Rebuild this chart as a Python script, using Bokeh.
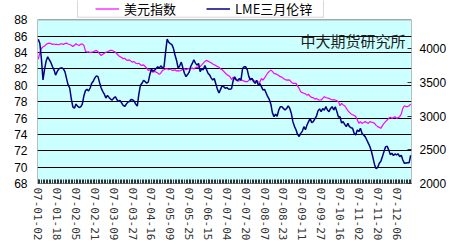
from bokeh.plotting import figure
from bokeh.models import (Range1d, LinearAxis, FixedTicker, Legend, LegendItem,
                          Label, ColumnDataSource, BoxAnnotation)
from bokeh.embed import file_html
from bokeh.resources import INLINE

date_labels = ["07-01-02", "07-01-18", "07-02-05", "07-02-21", "07-03-09",
               "07-03-27", "07-04-16", "07-05-09", "07-05-25", "07-06-15",
               "07-07-04", "07-07-20", "07-08-07", "07-08-23", "07-09-11",
               "07-09-27", "07-10-16", "07-11-02", "07-11-20", "07-12-06"]
label_step = 12

usd_index = [
    83.2, 84.0, 84.5, 84.7, 84.8, 85.0, 85.1, 85.15, 85.1, 85.0, 85.05, 84.99,
    85.0, 84.95, 85.05, 85.07, 85.0, 85.1, 85.15, 85.05, 84.99, 84.9, 84.74, 84.9,
    85.07, 84.95, 84.87, 85.0, 85.07, 84.87, 84.2, 84.05, 84.1, 84.0, 84.05, 84.1,
    84.2, 84.26, 84.1, 83.85, 83.64, 83.8, 83.9, 84.05, 84.1, 84.2, 84.26, 84.26,
    84.15, 84.05, 83.85, 83.64, 83.5, 83.4, 83.24, 83.3, 83.1, 83.04, 83.1, 82.95,
    82.83, 82.9, 82.7, 82.63, 82.7, 82.5, 82.43, 82.5, 82.3, 82.1, 81.82, 81.9,
    81.7, 81.61, 81.7, 81.61, 81.5, 81.33, 81.5, 81.82, 81.9, 82.0, 82.02, 81.9,
    82.0, 81.85, 81.82, 81.9, 81.74, 81.8, 81.74, 81.85, 81.95, 82.02, 81.9, 82.0,
    82.05, 82.02, 82.1, 82.0, 82.15, 82.22, 82.2, 82.3, 82.5, 82.7, 82.9, 83.04,
    82.95, 82.85, 82.75, 82.6, 82.5, 82.4, 82.3, 82.2, 82.0, 81.9, 81.7, 81.5,
    81.3, 81.2, 81.05, 80.7, 81.0, 80.8, 80.63, 80.5, 80.55, 80.63, 80.6, 80.5,
    80.45, 80.44, 80.6, 80.84, 80.7, 80.63, 80.5, 80.44, 80.4, 80.36, 80.84, 80.63,
    80.9, 81.2, 81.5, 81.7, 81.85, 81.7, 81.45, 81.4, 81.33, 81.2, 81.05, 81.0,
    80.84, 80.7, 80.63, 80.65, 80.63, 80.4, 80.23, 80.25, 80.23, 79.9, 79.62, 79.22,
    79.1, 79.02, 78.95, 78.8, 78.9, 78.65, 78.5, 78.5, 78.3, 78.4, 78.25, 78.2,
    78.2, 78.4, 78.6, 78.5, 78.45, 78.4, 78.3, 78.2, 78.25, 78.2, 78.1, 78.0,
    77.5, 77.8, 77.6, 77.5, 77.2, 76.9, 76.7, 76.5, 76.4, 76.3, 76.2, 75.8,
    75.35, 75.56, 75.35, 75.45, 75.56, 75.45, 75.35, 75.56, 75.5, 75.45, 75.35, 75.1,
    74.95, 74.85, 74.74, 75.07, 75.35, 75.56, 75.76, 75.96, 76.1, 75.96, 76.05, 76.17,
    75.96, 76.05, 76.17, 76.5, 77.2, 77.5, 77.4, 77.4, 77.5, 77.7,
]

lme_zinc = [
    4146, 4082, 3850, 3540, 3700, 3820, 3885, 3840, 3800, 3740, 3690, 3612,
    3662, 3700, 3715, 3720, 3705, 3660, 3560, 3463, 3420, 3260, 3140, 3120,
    3180, 3150, 3130, 3140, 3180, 3300, 3380, 3400, 3375, 3420, 3490, 3520,
    3570, 3600, 3590, 3500, 3420, 3370, 3330, 3270, 3310, 3280, 3255, 3240,
    3270, 3290, 3250, 3220, 3235, 3200, 3160, 3145, 3180, 3210, 3220, 3250,
    3245, 3225, 3180, 3150, 3330, 3460, 3490, 3535, 3515, 3490, 3510, 3620,
    3700, 3670, 3685, 3710, 3735, 3715, 3750, 3720, 3730, 3950, 4146, 4100,
    4080, 4065, 4010, 3910, 3830, 3715, 3750, 3805, 3720, 3640, 3590, 3620,
    3655, 3740, 3785, 3840, 3790, 3760, 3785, 3665, 3705, 3690, 3755, 3700,
    3640, 3615, 3570, 3540, 3560, 3480, 3400, 3345, 3400, 3455, 3440, 3415,
    3425, 3405, 3400, 3410, 3530, 3585, 3540, 3535, 3560, 3540, 3710, 3736,
    3735, 3690, 3590, 3540, 3565, 3515, 3490, 3535, 3465, 3485, 3440, 3390,
    3400, 3345, 3290, 3250, 3180, 3050, 2994, 3030, 3000, 3090, 3140, 3140,
    3117, 3092, 3115, 3155, 3120, 3045, 2920, 2850, 2800, 2730, 2700, 2745,
    2775, 2845, 2800, 2870, 2920, 2965, 2905, 2920, 2960, 3000, 3080, 3110,
    3070, 3115, 3090, 3143, 3092, 3068, 3117, 3143, 3092, 3140, 3070, 2990,
    2994, 2900, 2920, 2880, 2846, 2895, 2846, 2830, 2821, 2746, 2722, 2796,
    2772, 2821, 2746, 2722, 2697, 2650, 2600, 2550, 2480, 2380, 2280, 2220,
    2240, 2300, 2330, 2400, 2475, 2545, 2555, 2500, 2430, 2450, 2416, 2440,
    2425, 2440, 2400, 2420, 2350, 2300, 2305, 2310, 2310, 2420,
]

left_ticks = [68, 70, 72, 74, 76, 78, 80, 82, 84, 86, 88]
right_ticks = [2000, 2500, 3000, 3500, 4000]

n = len(usd_index)
src = ColumnDataSource(dict(x=list(range(n)), usd=usd_index, zinc=lme_zinc))

# the frame reaches the top of the canvas so the legend (drawn above the
# plotting area) is not clipped; the cyan plotting area itself is 68..88
p = figure(width=450, height=250, output_backend="svg", toolbar_location=None,
           x_range=Range1d(-0.5, n - 0.5), y_range=Range1d(68, 90.36),
           min_border_left=37, min_border_right=39, min_border_top=0,
           min_border_bottom=67)
p.extra_y_ranges = {"zinc": Range1d(2000, 4721)}

p.background_fill_color = "white"
p.border_fill_color = "white"
p.outline_line_color = None

# plotting-area background (below the grid)
p.quad(left=-0.5, right=n - 0.5, bottom=left_ticks[0], top=left_ticks[-1],
       fill_color="#CCFFFF", line_color="#808080", line_width=1, level="image")

# x axis
p.xaxis.ticker = FixedTicker(ticks=[i * label_step for i in range(len(date_labels))],
                             minor_ticks=list(range(n)))
p.xaxis.major_label_overrides = {i * label_step: s for i, s in enumerate(date_labels)}
p.xaxis.major_label_orientation = "vertical"
p.xaxis.major_label_text_font = "DejaVu Sans Mono"
p.xaxis.major_label_text_font_size = "11px"
p.xaxis.major_label_text_color = "#333333"
p.xaxis.major_label_standoff = 4
p.xaxis.major_tick_in = 4
p.xaxis.major_tick_out = 0
p.xaxis.minor_tick_in = 4
p.xaxis.minor_tick_out = 0
p.xaxis.major_tick_line_color = "#333333"
p.xaxis.minor_tick_line_color = "#333333"
p.xaxis.axis_line_color = "#808080"
p.xgrid.grid_line_color = None

# left axis
p.yaxis.ticker = FixedTicker(ticks=left_ticks)
p.yaxis.major_label_text_font = "Liberation Sans"
p.yaxis.major_label_text_font_size = "12px"
p.yaxis.major_label_text_color = "black"
p.yaxis.major_tick_in = 0
p.yaxis.major_tick_out = 0
p.yaxis.minor_tick_line_color = None
p.yaxis.major_label_standoff = 10
p.yaxis.axis_line_color = None
p.ygrid.ticker = FixedTicker(ticks=left_ticks[1:-1])
p.ygrid.grid_line_color = "black"
p.ygrid.grid_line_width = 1

# right axis
ra = LinearAxis(y_range_name="zinc", ticker=FixedTicker(ticks=right_ticks))
ra.major_label_text_font = "Liberation Sans"
ra.major_label_text_font_size = "12px"
ra.major_label_text_color = "black"
ra.major_tick_in = 4
ra.major_tick_out = 0
ra.minor_tick_line_color = None
ra.major_label_standoff = 8
ra.axis_line_color = None
ra.major_tick_line_color = "#333333"
p.add_layout(ra, "right")

r1 = p.line("x", "usd", source=src, line_color="#FF00FF", line_width=1.2)
r2 = p.line("x", "zinc", source=src, y_range_name="zinc",
            line_color="#000080", line_width=1.5)

wm = Label(x=263, y=143, x_units="screen", y_units="screen",
           text="中大期货研究所", text_font="Noto Sans CJK SC",
           text_font_size="15px", text_color="#202020",
           text_baseline="middle", text_align="left")
p.add_layout(wm)

box = BoxAnnotation(left=40, right=286, bottom=166.3, top=190,
                    left_units="screen", right_units="screen",
                    top_units="screen", bottom_units="screen",
                    fill_color="white", fill_alpha=1.0,
                    line_color="#808080", line_width=1)
p.add_layout(box)

legend = Legend(items=[LegendItem(label="美元指数", renderers=[r1]),
                       LegendItem(label="LME三月伦锌", renderers=[r2])],
                orientation="horizontal", location=(58, 165.5),
                border_line_color=None, background_fill_alpha=0,
                padding=2, spacing=30, glyph_width=24, glyph_height=13,
                label_height=13, label_standoff=5,
                label_text_font="Noto Sans CJK SC", label_text_font_size="13px",
                label_text_color="black", margin=0)
p.add_layout(legend, "center")

open("out.html", "w").write(file_html(p, INLINE))
